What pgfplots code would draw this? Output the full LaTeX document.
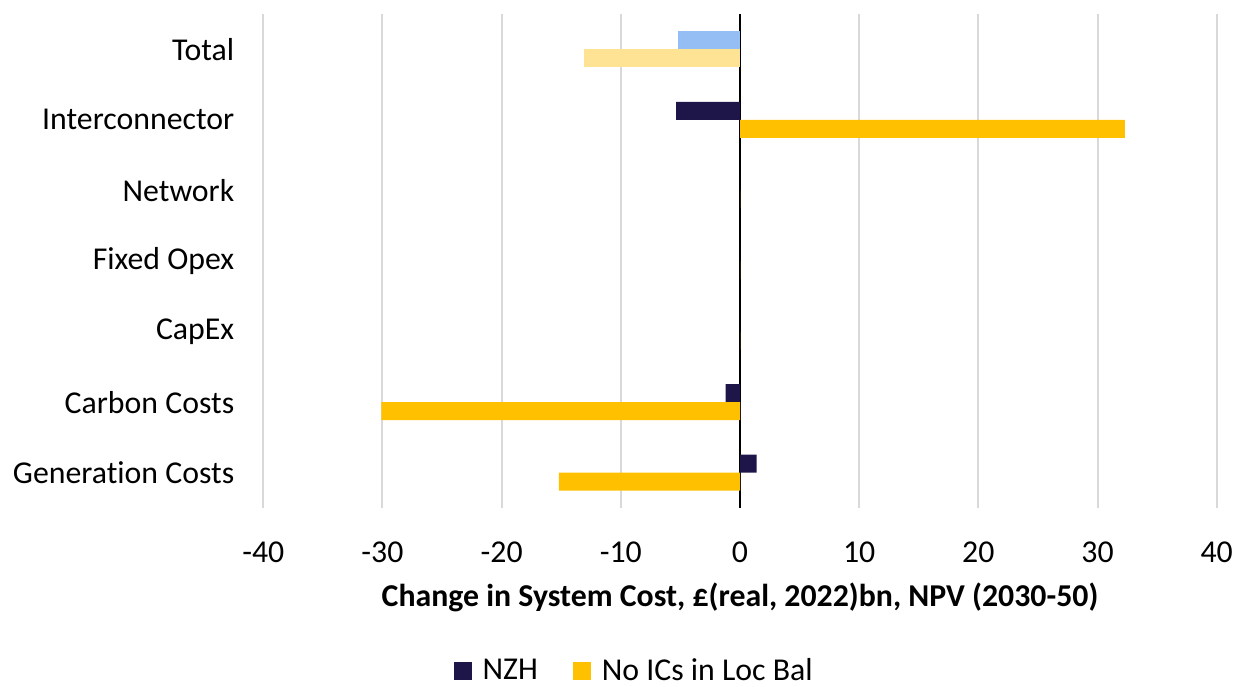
\documentclass[border=0pt]{standalone}
\usepackage{fontspec}
\setmainfont{Carlito}[Ligatures=CommonOff]
\usepackage{pgfplots}
\pgfplotsset{compat=1.18}
\definecolor{nzh}{HTML}{1E1548}
\definecolor{noics}{HTML}{FFC000}
\definecolor{nzhlight}{HTML}{95BEF5}
\definecolor{noicslight}{HTML}{FFE394}
\definecolor{gridgray}{HTML}{D9D9D9}

\begin{document}
\begin{tikzpicture}
\useasboundingbox (0,0) rectangle (617.5pt,343pt);
\begin{axis}[
  at={(131.65pt,89pt)}, anchor=south west,
  scale only axis, width=476.7pt, height=247pt,
  xbar, bar width=9pt,
  xmin=-40, xmax=40, ymin=-0.5, ymax=6.5,
  xtick={-40,-30,...,40},
  xticklabels={-40,-30,-20,-10,0,10,20,30,40},
  ytick={0,...,6},
  yticklabels={Generation Costs, Carbon Costs, CapEx, Fixed Opex, Network, Interconnector, Total},
  axis line style={draw=none},
  major tick length=0pt,
  xmajorgrids,
  major grid style={gridgray, line width=1pt},
  extra x ticks={0}, extra x tick labels={},
  extra x tick style={major grid style={black, line width=1pt}},
  font=\fontsize{15.9}{19}\selectfont,
  tick label style={font=\fontsize{15.9}{19}\selectfont},
  xticklabel style={yshift=-13.5pt},
  yticklabel style={xshift=-11pt},
  xlabel={\bfseries Change in System Cost, £(real, 2022)bn, NPV (2030-50)},
  xlabel style={yshift=-3pt},
  legend columns=2,
  legend style={draw=none, at={(0.390,-0.330)}, anchor=center, inner sep=0pt,
    nodes={inner ysep=1pt},
    font=\fontsize{15.9}{19}\selectfont,
    /tikz/every odd column/.append style={column sep=3.5pt},
    /tikz/every even column/.append style={column sep=15.5pt}},
  legend image code/.code={\fill[#1] (0pt,-4.5pt) rectangle (9pt,4.5pt);},
]
% main series
\addplot[fill=nzh, draw=none, bar shift=4.5pt] coordinates {
  (1.4,0) (-1.2,1) (0,2) (0,3) (0,4) (-5.35,5)};
\addlegendentry{NZH}
\addplot[fill=noics, draw=none, bar shift=-4.5pt] coordinates {
  (-15.2,0) (-30.1,1) (0,2) (0,3) (0,4) (32.3,5)};
\addlegendentry{No ICs in Loc Bal}
% totals in lighter shades
\addplot[fill=nzhlight, draw=none, bar shift=4.5pt, forget plot] coordinates {(-5.2,6)};
\addplot[fill=noicslight, draw=none, bar shift=-4.5pt, forget plot] coordinates {(-13.1,6)};
\end{axis}
\end{tikzpicture}
\end{document}
